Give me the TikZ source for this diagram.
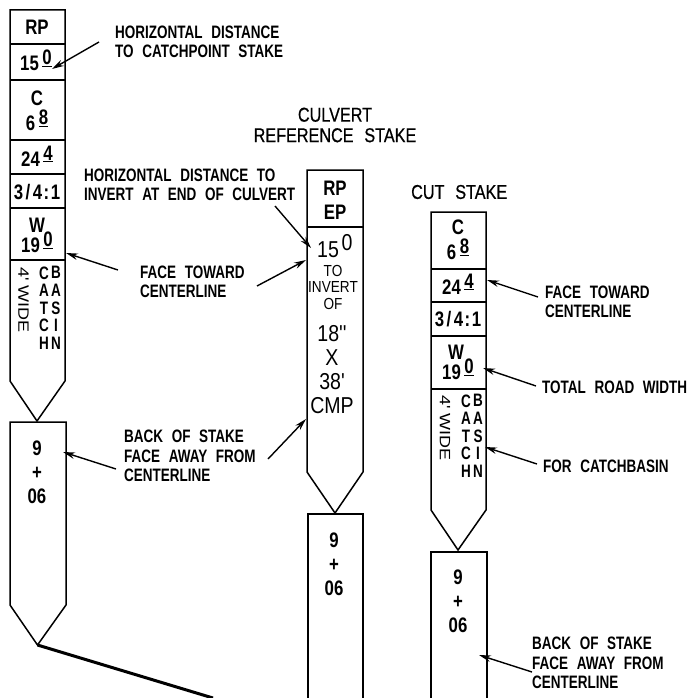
\documentclass[tikz,border=0pt]{standalone}
\usepackage{fontspec}
\setmainfont[FakeStretch=0.75,WordSpace=2.3]{Liberation Sans}
\newfontfamily\thinfont[FakeStretch=0.85]{Liberation Sans}
\newfontfamily\stakefont[FakeStretch=0.8]{Liberation Sans}
\newfontfamily\titlefont[FakeStretch=0.81,WordSpace=2.4,FakeBold=0.6]{Liberation Sans}
\newfontfamily\sidefont[FakeStretch=1.2]{Liberation Sans}
\newcommand{\upval}[2]{#1\,\raisebox{6pt}{\underline{#2}}}
\newcommand{\slopetxt}{3\kern2.5pt/\kern2.5pt4\kern1.5pt:\kern1.5pt1}
\tikzset{
    stakeline/.style={line width=1.5pt},
    divline/.style={line width=2.2pt},
    ptr/.style={->, line width=1.4pt, >={Stealth[length=12pt,width=6.5pt]}},
    labeltxt/.style={anchor=west, align=left, inner sep=0pt,
        font=\fontsize{18}{19.5}\selectfont\bfseries},
    titletxt/.style={align=center, inner sep=0pt,
        font=\fontsize{20}{20.5}\selectfont\titlefont},
    staketxt/.style={align=center, inner sep=0pt,
        font=\fontsize{21}{24}\selectfont\stakefont\bfseries},
    thintxt/.style={align=center, inner sep=0pt,
        font=\fontsize{16}{16.5}\selectfont\thinfont},
    bigtxt/.style={align=center, inner sep=0pt,
        font=\fontsize{23}{24}\selectfont\thinfont},
    coltxt/.style={align=center, inner sep=0pt,
        font=\fontsize{18}{17.6}\selectfont\bfseries},
    sidetxt/.style={rotate=-90, inner sep=0pt,
        font=\fontsize{15}{16}\selectfont\sidefont},
}
\usetikzlibrary{arrows.meta}
\begin{document}
\begin{tikzpicture}[x=1pt, y=-1pt]
    \useasboundingbox (0,0) rectangle (687,698);

    % left stake
    \draw[stakeline] (10,10) -- (65,10) -- (65,381) -- (37,421) -- (10,381) -- cycle;
    \foreach \yy in {44,80,140,174,208,260} {
        \draw[divline] (10,\yy) -- (65,\yy);
    }
    \draw[stakeline] (10,605) -- (10,422) -- (66,422) -- (66,605) -- (37.5,645) -- cycle;
    \draw[line width=3pt] (37.5,645) -- (213,698);

    \node[staketxt] (rpa) at (37,27) {RP};
    \node[staketxt] (hda) at (36,60) {\upval{15}{0}};
    \node[staketxt] (ca) at (37,98) {C};
    \node[staketxt] (cuta) at (37,120) {\upval{6}{8}};
    \node[staketxt] (slopa) at (37,156) {\upval{24}{4}};
    \node[staketxt] (ratioa) at (37,192) {\slopetxt};
    \node[staketxt] (wa) at (37,225) {W};
    \node[staketxt] (widtha) at (37,242) {\upval{19}{0}};
    \node[sidetxt] (sidea) at (23.5,300) {4' WIDE};
    \node[coltxt] (catcha) at (44,308) {C\\A\\T\\C\\H};
    \node[coltxt] (basina) at (56,308) {B\\A\\S\\I\\N};
    \node[staketxt] (stna) at (37,472) {9\\+\\06};

    % culvert stake
    \draw[stakeline] (307,170) -- (363,170) -- (363,472) -- (335,513) -- (307,472) -- cycle;
    \draw[divline] (307,227) -- (363,227);
    \draw[stakeline] (308,698) -- (308,514) -- (363,514) -- (363,698);

    \node[staketxt] (rpb) at (335,200) {RP\\EP};
    \node[bigtxt] (hdb) at (328,250) {15};
    \node[bigtxt] (hdc) at (347,243) {0};
    \node[thintxt] (invb) at (333,287) {TO\\INVERT\\OF};
    \node[bigtxt] (sizeb) at (332,370) {18''\\X\\38'\\CMP};
    \node[staketxt] (stnb) at (334,564) {9\\+\\06};

    % cut stake
    \draw[stakeline] (431,212) -- (486,212) -- (486,510) -- (458,550) -- (431,510) -- cycle;
    \foreach \yy in {269,302,336,389} {
        \draw[divline] (431,\yy) -- (486,\yy);
    }
    \draw[stakeline] (431,698) -- (431,552) -- (487,552) -- (487,698);

    \node[staketxt] (cc) at (458,227) {C};
    \node[staketxt] (cutc) at (458,249) {\upval{6}{8}};
    \node[staketxt] (slopc) at (458,284) {\upval{24}{4}};
    \node[staketxt] (ratioc) at (458,319) {\slopetxt};
    \node[staketxt] (wc) at (456,352) {W};
    \node[staketxt] (widthc) at (458,369) {\upval{19}{0}};
    \node[sidetxt] (sidec) at (445,428) {4' WIDE};
    \node[coltxt] (catchc) at (466,436) {C\\A\\T\\C\\H};
    \node[coltxt] (basinc) at (478,436) {B\\A\\S\\I\\N};
    \node[staketxt] (stnc) at (458,601) {9\\+\\06};

    % labels
    \node[labeltxt] (lhoriz) at (115,42) {HORIZONTAL DISTANCE\\TO CATCHPOINT STAKE};
    \node[labeltxt] (lface) at (140,282) {FACE TOWARD\\CENTERLINE};
    \node[labeltxt] (lback) at (124,456) {BACK OF STAKE\\FACE AWAY FROM\\CENTERLINE};
    \node[labeltxt] (linvert) at (84,185) {HORIZONTAL DISTANCE TO\\INVERT AT END OF CULVERT};
    \node[titletxt] (tculv) at (335,125) {CULVERT\\REFERENCE STAKE};
    \node[titletxt, anchor=west] (tcut) at (411,192) {CUT STAKE};
    \node[labeltxt] (lfacec) at (545,302) {FACE TOWARD\\CENTERLINE};
    \node[labeltxt] (lroad) at (542,387) {TOTAL ROAD WIDTH};
    \node[labeltxt] (lbasin) at (543,466) {FOR CATCHBASIN};
    \node[labeltxt] (lbackc) at (532,663) {BACK OF STAKE\\FACE AWAY FROM\\CENTERLINE};

    % arrows
    \foreach \nn/\xa/\ya/\xb/\yb in {
        a/99/42/52/69, b/118/270/66/253, c/275/206/311/248, d/257/286/306/260,
        e/116/469/63/452, f/268/459/306/419, g/538/297/487/280, h/536/386/483/368,
        i/537/464/485/447, j/532/672/479/655} {
        \coordinate (from\nn) at (\xa,\ya);
        \coordinate (to\nn) at (\xb,\yb);
        \draw[ptr] (from\nn) -- (to\nn);
    }
\end{tikzpicture}
\end{document}
